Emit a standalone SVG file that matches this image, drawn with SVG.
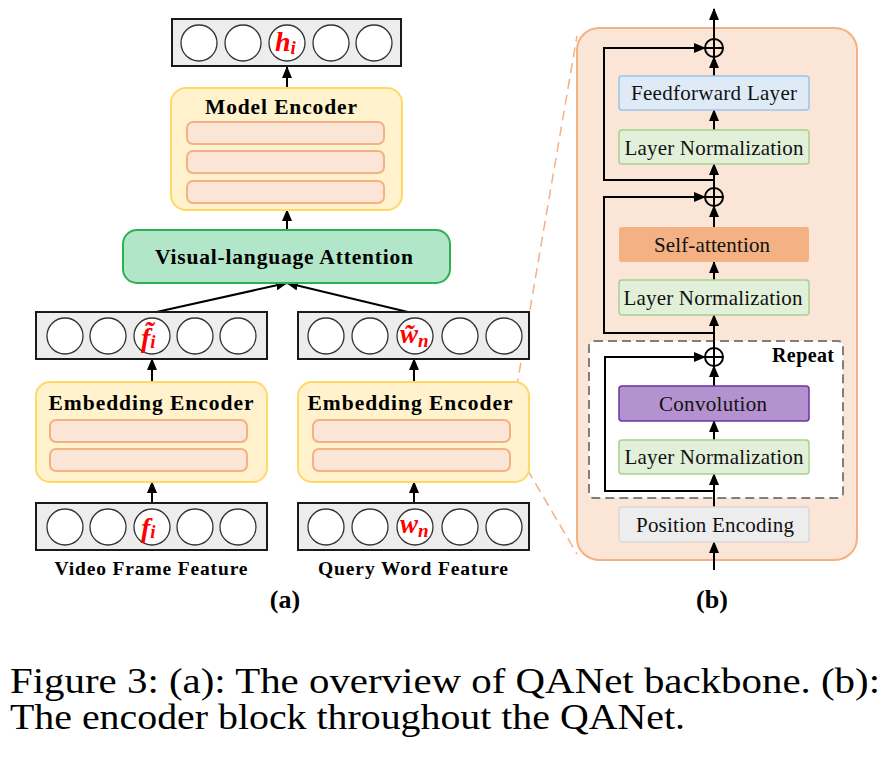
<svg xmlns="http://www.w3.org/2000/svg" width="883" height="764" viewBox="0 0 883 764">
<defs>
<marker id="ah" markerUnits="userSpaceOnUse" markerWidth="12" markerHeight="12" viewBox="0 0 12 12" refX="11" refY="6" orient="auto">
<path d="M0,1 L12,6 L0,11 Z" fill="#000"/>
</marker>
</defs>
<style>
text{font-family:"Liberation Serif","Times New Roman",Times,"Nimbus Roman",serif}
.vec{fill:#EDEDED;stroke:#1a1a1a;stroke-width:2}
.cir{fill:#fff;stroke:#333;stroke-width:1.3}
.enc{fill:#FFF2CC;stroke:#FFD966;stroke-width:2}
.bar{fill:#FBE5D6;stroke:#F4B183;stroke-width:2}
.lbl{font-weight:bold;fill:#000}
.math{font-weight:bold;font-style:italic;fill:#FF0000}
.bt{font-size:21px;fill:#111;text-anchor:middle}
.ln{fill:#E2F0D9;stroke:#A9D18E;stroke-width:1.5}
.arr{stroke:#000;stroke-width:2;fill:none;marker-end:url(#ah)}
.dash{stroke:#F4B183;stroke-width:1.5;stroke-dasharray:10,6;fill:none}
</style>

<g id="encoder-block">
<rect x="577" y="28" width="280" height="532" rx="22" fill="#FBE5D6" stroke="#F4B183" stroke-width="2"/>
</g>
<g id="repeat">
<rect x="589" y="341" width="254" height="157" rx="5" fill="#fff" stroke="#7F7F7F" stroke-width="2" stroke-dasharray="9,5"/>
<text class="lbl" x="834" y="362" font-size="20" text-anchor="end" textLength="62">Repeat</text>
</g>

<g id="connectors">
<line class="arr" x1="287" y1="88" x2="287" y2="67"/>
<line class="arr" x1="287" y1="230" x2="287" y2="210"/>
<line class="arr" x1="152" y1="313" x2="287" y2="283"/>
<line class="arr" x1="412" y1="313" x2="287" y2="283"/>
<line class="arr" x1="152" y1="382" x2="152" y2="359"/>
<line class="arr" x1="414" y1="382" x2="414" y2="359"/>
<line class="arr" x1="152" y1="502" x2="152" y2="482"/>
<line class="arr" x1="414" y1="502" x2="414" y2="482"/>
<line class="dash" x1="511" y1="420" x2="577" y2="36"/>
<line class="dash" x1="511" y1="442" x2="577" y2="554"/>
<line class="arr" x1="714" y1="39" x2="714" y2="9"/>
<line class="arr" x1="714" y1="76" x2="714" y2="57"/>
<line class="arr" x1="714" y1="130" x2="714" y2="110"/>
<line class="arr" x1="714" y1="188" x2="714" y2="164"/>
<polyline class="arr" points="714,180 604,180 604,48 705,48"/>
<line class="arr" x1="714" y1="227" x2="714" y2="206"/>
<line class="arr" x1="714" y1="280" x2="714" y2="262"/>
<line class="arr" x1="714" y1="348" x2="714" y2="315"/>
<polyline class="arr" points="714,333 604,333 604,197 705,197"/>
<line class="arr" x1="714" y1="386" x2="714" y2="366"/>
<line class="arr" x1="714" y1="440" x2="714" y2="421"/>
<line class="arr" x1="714" y1="507" x2="714" y2="474"/>
<polyline class="arr" points="714,491 605,491 605,357 705,357"/>
<line class="arr" x1="714" y1="570" x2="714" y2="542"/>
</g>

<g id="add1"><circle cx="714" cy="48" r="9" fill="#FBE5D6" stroke="#000" stroke-width="2"/><path d="M705,48H723M714,39V57" stroke="#000" stroke-width="2"/></g>
<g id="add2"><circle cx="714" cy="197" r="9" fill="#FBE5D6" stroke="#000" stroke-width="2"/><path d="M705,197H723M714,188V206" stroke="#000" stroke-width="2"/></g>
<g id="add3"><circle cx="714" cy="357" r="9" fill="#fff" stroke="#000" stroke-width="2"/><path d="M705,357H723M714,348V366" stroke="#000" stroke-width="2"/></g>

<g id="ff"><rect x="619" y="76" width="190" height="34" rx="3" fill="#DEEBF7" stroke="#9DC3E6" stroke-width="1.5"/><text class="bt" x="714" y="100" textLength="166">Feedforward Layer</text></g>
<g id="ln1"><rect class="ln" x="619" y="130" width="190" height="34" rx="3"/><text class="bt" x="714" y="155" textLength="179">Layer Normalization</text></g>
<g id="sa"><rect x="619" y="227" width="190" height="35" rx="3" fill="#F4B183"/><text class="bt" x="712" y="252" textLength="116">Self-attention</text></g>
<g id="ln2"><rect class="ln" x="619" y="280" width="190" height="35" rx="3"/><text class="bt" x="713" y="305" textLength="179">Layer Normalization</text></g>
<g id="conv"><rect x="619" y="386" width="190" height="35" rx="3" fill="#B491CF" stroke="#7030A0" stroke-width="1.5"/><text class="bt" x="713" y="411" textLength="108">Convolution</text></g>
<g id="ln3"><rect class="ln" x="619" y="440" width="190" height="34" rx="3"/><text class="bt" x="714" y="464" textLength="179">Layer Normalization</text></g>
<g id="pe"><rect x="619" y="507" width="190" height="35" rx="3" fill="#EDEDED" stroke="#D9D9D9" stroke-width="1.5"/><text class="bt" x="715" y="532" textLength="158">Position Encoding</text></g>

<g id="h-vec">
<rect class="vec" x="172" y="19" width="229" height="47"/>
<circle class="cir" cx="199" cy="43" r="18"/><circle class="cir" cx="243" cy="43" r="18"/><circle class="cir" cx="287" cy="43" r="18"/><circle class="cir" cx="331" cy="43" r="18"/><circle class="cir" cx="374" cy="43" r="18"/>
<text class="math" x="275" y="51" font-size="28">h<tspan font-size="19" dy="3">i</tspan></text>
</g>
<g id="model-encoder">
<rect class="enc" x="171" y="88" width="231" height="122" rx="15"/>
<text class="lbl" x="281" y="114" font-size="21.5" text-anchor="middle" textLength="152">Model Encoder</text>
<rect class="bar" x="187" y="122" width="197" height="22" rx="6"/>
<rect class="bar" x="187" y="151" width="197" height="22" rx="6"/>
<rect class="bar" x="187" y="181" width="197" height="22" rx="6"/>
</g>
<g id="vl-attention">
<rect x="123" y="230" width="327" height="53" rx="14" fill="#B2E6C8" stroke="#2DB050" stroke-width="2"/>
<text class="lbl" x="284" y="264" font-size="21.5" text-anchor="middle" textLength="258">Visual-language Attention</text>
</g>

<g id="f-tilde-vec">
<rect class="vec" x="36" y="312" width="231" height="47"/>
<circle class="cir" cx="65" cy="336" r="18"/><circle class="cir" cx="108" cy="336" r="18"/><circle class="cir" cx="152" cy="336" r="18"/><circle class="cir" cx="195" cy="336" r="18"/><circle class="cir" cx="238" cy="336" r="18"/>
<text class="math" x="141" y="347" font-size="28">f̃<tspan font-size="19" dy="1">i</tspan></text>
</g>
<g id="w-tilde-vec">
<rect class="vec" x="298" y="312" width="231" height="47"/>
<circle class="cir" cx="326" cy="336" r="18"/><circle class="cir" cx="370" cy="336" r="18"/><circle class="cir" cx="415" cy="336" r="18"/><circle class="cir" cx="460" cy="336" r="18"/><circle class="cir" cx="504" cy="336" r="18"/>
<text class="math" x="400" y="343" font-size="27">w̃<tspan font-size="19" dy="4">n</tspan></text>
</g>

<g id="emb-left">
<rect class="enc" x="36" y="382" width="231" height="100" rx="14"/>
<text class="lbl" x="151" y="410" font-size="21.5" text-anchor="middle" textLength="205">Embedding Encoder</text>
<rect class="bar" x="50" y="420" width="197" height="22" rx="6"/>
<rect class="bar" x="50" y="449" width="197" height="22" rx="6"/>
</g>
<g id="emb-right">
<rect class="enc" x="298" y="382" width="231" height="100" rx="14"/>
<text class="lbl" x="410" y="410" font-size="21.5" text-anchor="middle" textLength="205">Embedding Encoder</text>
<rect class="bar" x="313" y="420" width="197" height="22" rx="6"/>
<rect class="bar" x="313" y="449" width="197" height="22" rx="6"/>
</g>

<g id="f-vec">
<rect class="vec" x="36" y="503" width="231" height="47"/>
<circle class="cir" cx="65" cy="527" r="18"/><circle class="cir" cx="108" cy="527" r="18"/><circle class="cir" cx="152" cy="527" r="18"/><circle class="cir" cx="195" cy="527" r="18"/><circle class="cir" cx="238" cy="527" r="18"/>
<text class="math" x="141" y="537" font-size="28">f<tspan font-size="19" dy="1">i</tspan></text>
</g>
<g id="w-vec">
<rect class="vec" x="298" y="503" width="231" height="47"/>
<circle class="cir" cx="326" cy="527" r="18"/><circle class="cir" cx="370" cy="527" r="18"/><circle class="cir" cx="415" cy="527" r="18"/><circle class="cir" cx="460" cy="527" r="18"/><circle class="cir" cx="504" cy="527" r="18"/>
<text class="math" x="400" y="533" font-size="27">w<tspan font-size="19" dy="4">n</tspan></text>
</g>

<text class="lbl" x="151" y="575" font-size="19.5" text-anchor="middle" textLength="193">Video Frame Feature</text>
<text class="lbl" x="413" y="575" font-size="19.5" text-anchor="middle" textLength="190">Query Word Feature</text>
<text class="lbl" x="285" y="608" font-size="26" text-anchor="middle">(a)</text>
<text class="lbl" x="712" y="608" font-size="26" text-anchor="middle">(b)</text>

<text x="10" y="693" font-size="35" fill="#000" textLength="870" lengthAdjust="spacingAndGlyphs">Figure 3: (a): The overview of QANet backbone. (b):</text>
<text x="10" y="729" font-size="35" fill="#000" textLength="675" lengthAdjust="spacingAndGlyphs">The encoder block throughout the QANet.</text>
</svg>
